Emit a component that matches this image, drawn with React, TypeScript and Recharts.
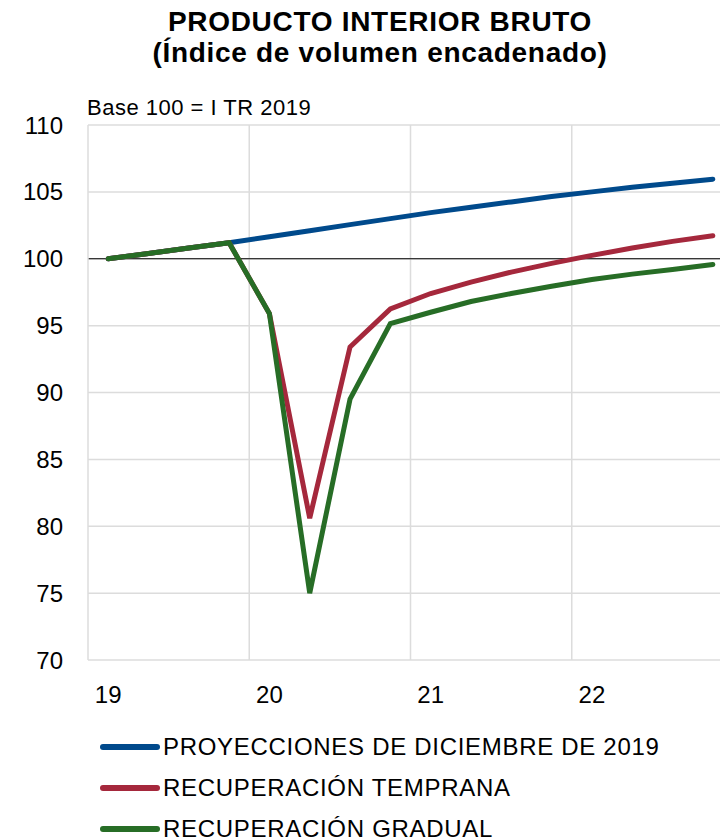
import { CartesianGrid, Line, LineChart, ReferenceLine, XAxis, YAxis } from 'recharts';

const quarters = [
  'I TR 19', 'II TR 19', 'III TR 19', 'IV TR 19',
  'I TR 20', 'II TR 20', 'III TR 20', 'IV TR 20',
  'I TR 21', 'II TR 21', 'III TR 21', 'IV TR 21',
  'I TR 22', 'II TR 22', 'III TR 22', 'IV TR 22',
];
const years = ['19', '20', '21', '22'];

const proyecciones = [100, 100.4, 100.8, 101.2, 101.65, 102.1, 102.55, 103.0, 103.45, 103.85, 104.25, 104.65, 105.0, 105.35, 105.65, 105.95];
const temprana = [100, 100.4, 100.8, 101.2, 95.9, 80.6, 93.4, 96.25, 97.4, 98.25, 99.0, 99.65, 100.25, 100.8, 101.3, 101.72];
const gradual = [100, 100.4, 100.8, 101.2, 95.9, 75.0, 89.5, 95.15, 96.0, 96.8, 97.4, 97.95, 98.45, 98.85, 99.2, 99.57];

const yTicks = [70, 75, 80, 85, 90, 95, 100, 105, 110];

const series = [
  { key: 'proyecciones', name: 'PROYECCIONES DE DICIEMBRE DE 2019', color: '#004a8c' },
  { key: 'temprana', name: 'RECUPERACIÓN TEMPRANA', color: '#a5283c' },
  { key: 'gradual', name: 'RECUPERACIÓN GRADUAL', color: '#276d26' },
];

const data = quarters.map((q, i) => ({
  i,
  q,
  proyecciones: proyecciones[i],
  temprana: temprana[i],
  gradual: gradual[i],
}));

// year boundaries sit half a quarter before each first quarter
const yearBounds = years.slice(1).map((_, k) => (k + 1) * 4 - 0.5);

const FONT = '"Liberation Sans", Arial, Helvetica, sans-serif';

export default function App() {
  return (
    <div
      style={{
        position: 'absolute',
        left: 0,
        top: 0,
        width: 720,
        height: 839,
        overflow: 'hidden',
        background: '#fff',
        fontFamily: FONT,
        color: '#000',
      }}
    >
      <div
        style={{
          position: 'absolute',
          left: 40,
          top: 6,
          width: 680,
          textAlign: 'center',
          fontWeight: 700,
          fontSize: 28,
          letterSpacing: 0.7,
          lineHeight: '31px',
        }}
      >
        <div>PRODUCTO INTERIOR BRUTO</div>
        <div>(Índice de volumen encadenado)</div>
      </div>

      <div style={{ position: 'absolute', left: 87, top: 96, fontSize: 22, letterSpacing: 0.5, lineHeight: '24px', whiteSpace: 'nowrap' }}>
        Base 100 = I TR 2019
      </div>

      <div style={{ position: 'absolute', left: 0, top: 0 }}>
        <LineChart width={733} height={720} data={data} margin={{ top: 125, right: 0, left: 0, bottom: 0 }}>
          <CartesianGrid vertical={false} stroke="#dcdcdc" strokeWidth={1.5} />
          {yearBounds.map((b) => (
            <ReferenceLine key={b} x={b} stroke="#dcdcdc" strokeWidth={1.5} />
          ))}
          <XAxis
            dataKey="i"
            type="number"
            domain={[-0.5, quarters.length - 0.5]}
            ticks={years.map((_, k) => k * 4)}
            tickFormatter={(v: number) => years[Math.round(v / 4)]}
            height={60}
            axisLine={false}
            tickLine={false}
            tickSize={0}
            tickMargin={26}
            tick={{ fill: '#000', fontSize: 24, fontFamily: FONT }}
          />
          <YAxis
            domain={[70, 110]}
            ticks={yTicks}
            width={88}
            axisLine={{ stroke: '#dcdcdc', strokeWidth: 1.5 }}
            tickLine={false}
            tickSize={0}
            tickMargin={25}
            tick={{ fill: '#000', fontSize: 24, fontFamily: FONT }}
            interval={0}
          />
          <ReferenceLine y={100} stroke="#000" strokeWidth={1.2} />
          {series.map((s) => (
            <Line
              key={s.key}
              dataKey={s.key}
              name={s.name}
              stroke={s.color}
              strokeWidth={5}
              strokeLinecap="round"
              dot={false}
              activeDot={false}
              isAnimationActive={false}
            />
          ))}
        </LineChart>
      </div>

      <div style={{ position: 'absolute', left: 100, top: 726 }}>
        {series.map((s) => (
          <div key={s.key} style={{ display: 'flex', alignItems: 'center', height: 41 }}>
            <div style={{ width: 60, height: 6, borderRadius: 3, background: s.color, marginRight: 3 }} />
            <span style={{ fontSize: 24, letterSpacing: 0.7, whiteSpace: 'nowrap' }}>{s.name}</span>
          </div>
        ))}
      </div>
    </div>
  );
}
